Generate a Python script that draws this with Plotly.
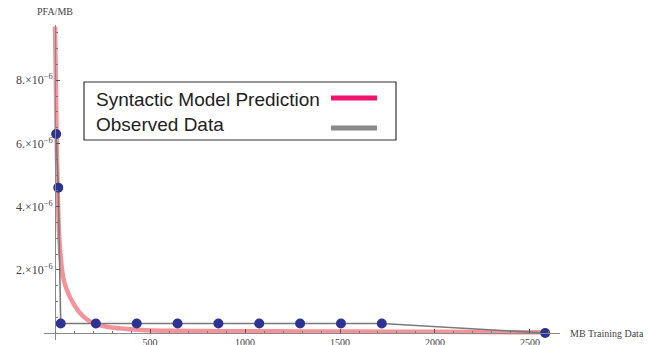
import plotly.graph_objects as go

# ---- data ----
pred_x = [0, 3, 6, 10, 15, 20, 27, 35, 45, 60, 80, 100, 130, 170, 215, 270, 330, 400,
          480, 600, 800, 1000, 1300, 1600, 2000, 2300, 2579]
pred_y = [9.7e-6, 8.5e-6, 7.2e-6, 5.6e-6, 4.3e-6, 3.3e-6, 2.6e-6, 2.1e-6, 1.7e-6, 1.4e-6,
          1.12e-6, 0.9e-6, 0.64e-6, 0.42e-6, 0.28e-6, 0.2e-6, 0.15e-6, 0.12e-6,
          0.09e-6, 0.07e-6, 0.06e-6, 0.055e-6, 0.05e-6, 0.045e-6, 0.04e-6, 0.03e-6, 0.02e-6]

obs_x = [6, 17, 30, 215, 430, 645, 860, 1075, 1290, 1505, 1720, 2580]
obs_y = [6.3e-6, 4.6e-6, 0.3e-6, 0.3e-6, 0.3e-6, 0.3e-6, 0.3e-6, 0.3e-6, 0.3e-6,
         0.3e-6, 0.3e-6, 0.0]

x_tickvals = [500, 1000, 1500, 2000, 2500]
x_ticktext = ["500", "1000", "1500", "2000", "2500"]
y_tickvals = [2e-6, 4e-6, 6e-6, 8e-6]
y_ticktext = ["2.×10<sup>−6</sup>", "4.×10<sup>−6</sup>", "6.×10<sup>−6</sup>", "8.×10<sup>−6</sup>"]

legend_labels = ["Syntactic Model Prediction", "Observed Data"]

# ---- layout geometry (pixels) ----
W, H = 660, 345
L, R, T, B = 44, 100, 25, 5
PW, PH = W - L - R, H - T - B

def px(x):
    return (x - L) / PW

def py(y):
    return (H - B - y) / PH

XR = [-58, 2658]
YR = [-0.2215e-6, 9.747e-6]

fig = go.Figure()
fig.add_trace(go.Scatter(x=pred_x, y=pred_y, mode="lines",
                         line=dict(color="rgba(238,90,100,0.65)", width=4.5, shape="spline"),
                         showlegend=False, hoverinfo="skip"))
fig.add_trace(go.Scatter(x=obs_x, y=obs_y, mode="lines+markers",
                         line=dict(color="#7a7a7a", width=1.6),
                         marker=dict(color="#2d3393", size=10),
                         showlegend=False))

serif = "Liberation Serif, Times New Roman, serif"
fig.update_layout(
    width=W, height=H, margin=dict(l=L, r=R, t=T, b=B, autoexpand=False),
    paper_bgcolor="white", plot_bgcolor="white", showlegend=False,
    xaxis=dict(range=XR, anchor="free", position=(0 - YR[0]) / (YR[1] - YR[0]), automargin=False,
               showgrid=False, zeroline=False, showline=True, linecolor="#8a8a8a", linewidth=1,
               tickvals=x_tickvals, ticktext=x_ticktext, ticks="inside", ticklen=4,
               tickcolor="#555", tickfont=dict(family=serif, size=10, color="#444"),
               minor=dict(dtick=100, tick0=0, ticks="inside", ticklen=2, tickcolor="#777")),
    yaxis=dict(range=YR, anchor="free", position=(0 - XR[0]) / (XR[1] - XR[0]), automargin=False,
               showgrid=False, zeroline=False, showline=True, linecolor="#8a8a8a", linewidth=1,
               tickvals=y_tickvals, ticktext=y_ticktext, ticks="inside", ticklen=4,
               tickcolor="#555", tickfont=dict(family=serif, size=12, color="#444"),
               minor=dict(dtick=0.5e-6, tick0=0, ticks="inside", ticklen=2, tickcolor="#777")),
)

# axis labels
fig.add_annotation(text="PFA/MB", xref="paper", yref="paper", x=px(55), y=py(12),
                   showarrow=False, font=dict(family=serif, size=10, color="#444"),
                   xanchor="center", yanchor="middle")
fig.add_annotation(text="MB Training Data", xref="paper", yref="paper", x=px(568), y=py(333),
                   showarrow=False, font=dict(family=serif, size=10, color="#444"),
                   xanchor="left", yanchor="middle")

# custom legend box
fig.add_shape(type="rect", xref="paper", yref="paper", x0=px(84), x1=px(396), y0=py(82), y1=py(140),
              line=dict(color="#333", width=1.2), fillcolor="white", layer="above")
sans = "Liberation Sans, Arial, sans-serif"
fig.add_annotation(text=legend_labels[0], xref="paper", yref="paper", x=px(94), y=py(99),
                   showarrow=False, xanchor="left", yanchor="middle",
                   font=dict(family=sans, size=19, color="#222"))
fig.add_annotation(text=legend_labels[1], xref="paper", yref="paper", x=px(94), y=py(124),
                   showarrow=False, xanchor="left", yanchor="middle",
                   font=dict(family=sans, size=19, color="#222"))
fig.add_shape(type="line", xref="paper", yref="paper", x0=px(331), x1=px(377), y0=py(98), y1=py(98),
              line=dict(color="#f0146c", width=5), layer="above")
fig.add_shape(type="line", xref="paper", yref="paper", x0=px(331), x1=px(377), y0=py(128), y1=py(128),
              line=dict(color="#8a8a8a", width=5), layer="above")

fig.write_html("out.html", config={"displayModeBar": False},
               post_script="document.body.style.margin='0';document.body.style.overflow='hidden';")
